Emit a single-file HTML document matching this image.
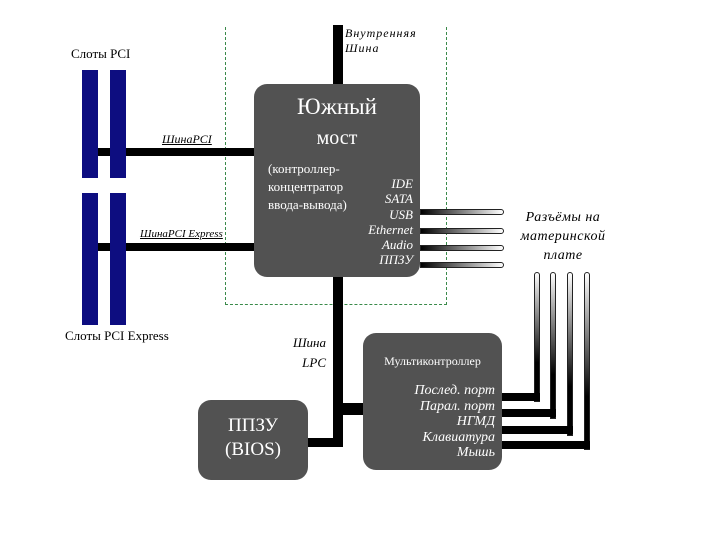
<!DOCTYPE html>
<html><head><meta charset="utf-8"><style>
body{margin:0;width:720px;height:540px;background:#fff;position:relative;overflow:hidden;font-family:"Liberation Serif","DejaVu Serif",serif}
.a{position:absolute}
.t{position:absolute;white-space:nowrap;line-height:1}
.box{position:absolute;background:#525252;border-radius:13px}
.w{color:#fff}
.i{font-style:italic}
.blk{position:absolute;background:#000}
.slot{position:absolute;background:#0d0d80}
.hl{position:absolute;height:4px;border:1px solid #222;border-radius:0 3px 3px 0;background:linear-gradient(to right,#000,#fff)}
.vl{position:absolute;width:4px;border:1px solid #222;border-radius:3px 3px 0 0;background:linear-gradient(to bottom,#fff,#000 70%)}
</style></head><body>
<!-- dashed region -->
<div class="a" style="left:225px;top:27px;width:220px;height:277px;border-left:1px dashed #3a8a4a;border-right:1px dashed #3a8a4a;border-bottom:1px dashed #3a8a4a"></div>
<!-- internal bus -->
<div class="blk" style="left:333px;top:25px;width:10px;height:62px"></div>
<div class="t i" style="left:345px;top:27px;font-size:12px;letter-spacing:1px">Внутренняя</div>
<div class="t i" style="left:345px;top:42px;font-size:12px;letter-spacing:1px">Шина</div>
<!-- PCI slots -->
<div class="blk" style="left:96px;top:148px;width:160px;height:8px"></div>
<div class="blk" style="left:96px;top:243px;width:160px;height:8px"></div>
<div class="slot" style="left:82px;top:70px;width:16px;height:108px"></div>
<div class="slot" style="left:110px;top:70px;width:16px;height:108px"></div>
<div class="slot" style="left:82px;top:193px;width:16px;height:132px"></div>
<div class="slot" style="left:110px;top:193px;width:16px;height:132px"></div>
<div class="t" style="left:71px;top:47px;font-size:13px">Слоты PCI</div>
<div class="t" style="left:65px;top:329px;font-size:13px">Слоты PCI Express</div>
<div class="t i" style="left:162px;top:133px;font-size:12px;text-decoration:underline">ШинаPCI</div>
<div class="t i" style="left:140px;top:229px;font-size:11px;text-decoration:underline">ШинаPCI Express</div>
<!-- south bridge -->
<div class="blk" style="left:333px;top:270px;width:10px;height:177px"></div>
<div class="blk" style="left:340px;top:403px;width:26px;height:12px"></div>
<div class="blk" style="left:305px;top:438px;width:38px;height:9px"></div>
<div class="box" style="left:254px;top:84px;width:166px;height:193px"></div>
<div class="t w" style="left:254px;width:166px;text-align:center;top:95px;font-size:23px">Южный</div>
<div class="t w" style="left:254px;width:166px;text-align:center;top:128px;font-size:20px">мост</div>
<div class="t w" style="left:268px;top:160px;font-size:13px;line-height:18px">(контроллер-<br>концентратор<br>ввода-вывода)</div>
<div class="t w i" style="left:330px;width:83px;text-align:right;top:176px;font-size:13px;line-height:15.3px">IDE<br>SATA<br>USB<br>Ethernet<br>Audio<br>ППЗУ</div>
<!-- outputs -->
<div class="hl" style="left:420px;top:209px;width:82px"></div>
<div class="hl" style="left:420px;top:228px;width:82px"></div>
<div class="hl" style="left:420px;top:245px;width:82px"></div>
<div class="hl" style="left:420px;top:262px;width:82px"></div>
<div class="t i" style="left:508px;top:208px;width:110px;text-align:center;font-size:14px;line-height:19px;letter-spacing:0.5px">Разъёмы на<br>материнской<br>плате</div>
<div class="vl" style="left:534px;top:272px;height:128px"></div>
<div class="vl" style="left:550px;top:272px;height:145px"></div>
<div class="vl" style="left:567px;top:272px;height:162px"></div>
<div class="vl" style="left:584px;top:272px;height:176px"></div>
<div class="blk" style="left:500px;top:393px;width:40px;height:8px"></div>
<div class="blk" style="left:500px;top:409px;width:56px;height:8px"></div>
<div class="blk" style="left:500px;top:426px;width:73px;height:8px"></div>
<div class="blk" style="left:500px;top:441px;width:90px;height:8px"></div>
<!-- multicontroller -->
<div class="box" style="left:363px;top:333px;width:139px;height:137px"></div>
<div class="t w" style="left:363px;width:139px;text-align:center;top:355px;font-size:12px">Мультиконтроллер</div>
<div class="t w i" style="left:366px;width:129px;text-align:right;top:383px;font-size:14px;line-height:15.5px">Послед. порт<br>Парал. порт<br>НГМД<br>Клавиатура<br>Мышь</div>
<div class="t i" style="left:286px;top:333px;font-size:13px;line-height:20px;text-align:right;width:40px">Шина<br>LPC</div>
<!-- BIOS -->
<div class="box" style="left:198px;top:400px;width:110px;height:80px"></div>
<div class="t w" style="left:198px;width:110px;text-align:center;top:414px;font-size:19px;line-height:24px">ППЗУ<br>(BIOS)</div>
</body></html>
